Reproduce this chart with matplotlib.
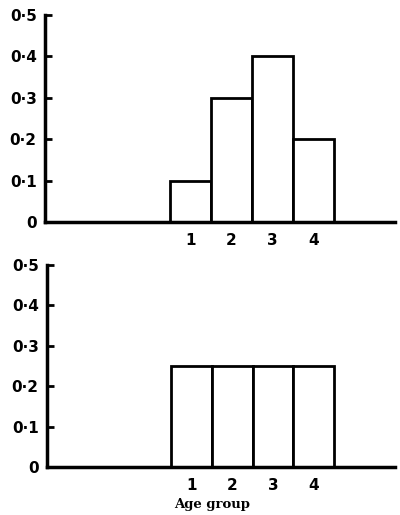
import matplotlib
matplotlib.use("Agg")
import matplotlib.pyplot as plt

age_groups = [1, 2, 3, 4]
top_values = [0.1, 0.3, 0.4, 0.2]
bottom_values = [0.25, 0.25, 0.25, 0.25]
y_ticks = [0, 0.1, 0.2, 0.3, 0.4, 0.5]
y_labels = ["0", "0·1", "0·2", "0·3", "0·4", "0·5"]


def drawPanel(ax, values):
    """draws one histogram panel"""

    ax.bar(age_groups, values, width=1.0, color="white", edgecolor="black", linewidth=2.0)
    ax.set_xlim(-2.55, 6.0)
    ax.set_ylim(0, 0.5)
    ax.spines["top"].set_visible(False)
    ax.spines["right"].set_visible(False)
    ax.spines["left"].set_linewidth(2.5)
    ax.spines["bottom"].set_linewidth(2.5)
    ax.set_yticks(y_ticks)
    ax.set_yticklabels(y_labels, fontsize=11, fontweight="bold")
    ax.tick_params(axis="y", direction="in", length=5, width=2, pad=6)
    ax.set_xticks(age_groups)
    ax.set_xticklabels([str(a) for a in age_groups], fontsize=11, fontweight="bold")
    ax.tick_params(axis="x", length=0, pad=8)


fig = plt.figure(figsize=(4.0, 5.15), dpi=100)
ax1 = fig.add_axes([0.1125, 0.569, 0.875, 0.402])
ax2 = fig.add_axes([0.1175, 0.0932, 0.87, 0.392])

drawPanel(ax1, top_values)
drawPanel(ax2, bottom_values)
ax2.set_xlabel("Age group", fontsize=9.5, fontweight="bold", family="DejaVu Serif")
ax2.xaxis.set_label_coords(0.474, -0.155)

fig.savefig("out.png", dpi=100)
